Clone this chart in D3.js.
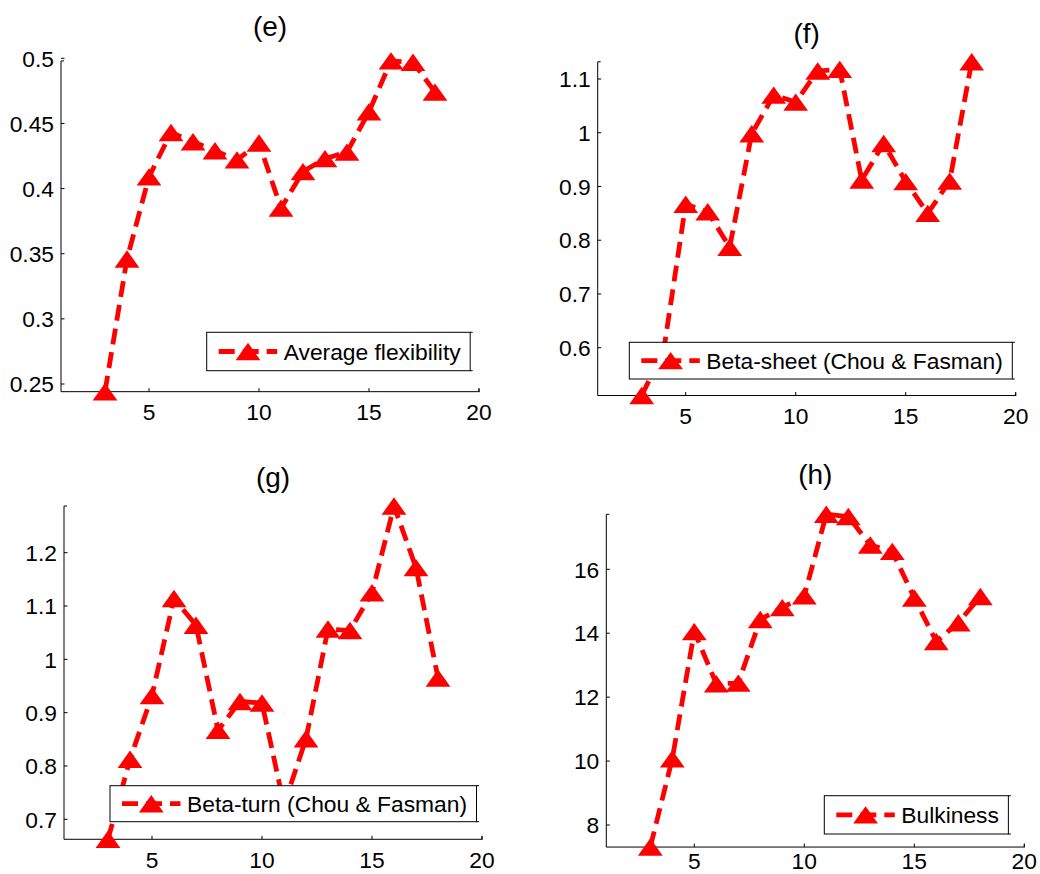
<!DOCTYPE html>
<html><head><meta charset="utf-8">
<script src="https://cdn.jsdelivr.net/npm/d3@7"></script>
<style>body{margin:0;background:#fff} svg{display:block}</style>
</head><body>
<svg id="chart" width="1040" height="874"></svg>
<script>
// ---- data ----
const xValues = [3,4,5,6,7,8,9,10,11,12,13,14,15,16,17,18];
const flexibility = [0.2441,0.346,0.409,0.443,0.436,0.429,0.422,0.435,0.385,0.413,0.423,0.428,0.459,0.498,0.497,0.474];
const betaSheet   = [0.511,0.595,0.867,0.853,0.787,0.998,1.07,1.057,1.115,1.118,0.912,0.980,0.909,0.850,0.910,1.132];
const betaTurn    = [0.6625,0.8125,0.932,1.114,1.064,0.867,0.921,0.918,0.727,0.851,1.057,1.054,1.125,1.2875,1.172,0.965];
const bulkiness   = [7.31,10.07,14.05,12.42,12.44,14.43,14.8,15.17,17.72,17.65,16.76,16.56,15.1,13.74,14.33,15.15];

const titles = ["(e)","(f)","(g)","(h)"];
const legendLabels = ["Average flexibility","Beta-sheet (Chou & Fasman)","Beta-turn (Chou & Fasman)","Bulkiness"];

const xLimits = [1,20];
const xTicks = [5,10,15,20];
const xTickLabels = ["5","10","15","20"];

const flexTicks = [0.25,0.3,0.35,0.4,0.45,0.5];
const flexTickLabels = ["0.25","0.3","0.35","0.4","0.45","0.5"];
const sheetTicks = [0.6,0.7,0.8,0.9,1,1.1];
const sheetTickLabels = ["0.6","0.7","0.8","0.9","1","1.1"];
const turnTicks = [0.7,0.8,0.9,1,1.1,1.2];
const turnTickLabels = ["0.7","0.8","0.9","1","1.1","1.2"];
const bulkTicks = [8,10,12,14,16];
const bulkTickLabels = ["8","10","12","14","16"];

// ---- layout ----
const panels = [
  {title:titles[0], values:flexibility, label:legendLabels[0], yTicks:flexTicks, yTickLabels:flexTickLabels,
   xr:[149,479], yd:[0.25,0.5], yr:[384,58.3], titleY:35.8, legend:{x:206.7,y:332.3,h:38.4}},
  {title:titles[1], values:betaSheet, label:legendLabels[1], yTicks:sheetTicks, yTickLabels:sheetTickLabels,
   xr:[685.7,1015.7], yd:[0.6,1.1], yr:[347.7,79], titleY:43.4, legend:{x:629.3,y:342.3,h:36.7}},
  {title:titles[2], values:betaTurn, label:legendLabels[2], yTicks:turnTicks, yTickLabels:turnTickLabels,
   xr:[152,482], yd:[0.7,1.2], yr:[819.3,552.7], titleY:487.4, legend:{x:110,y:785.7,h:36}},
  {title:titles[3], values:bulkiness, label:legendLabels[3], yTicks:bulkTicks, yTickLabels:bulkTickLabels,
   xr:[694.3,1024.3], yd:[8,16], yr:[825,569.3], titleY:484.1, legend:{x:824.3,y:795.7,h:38.3}}
];

const FONT = "'Liberation Sans', Arial, sans-serif";
const RED = "#ff0000";
const svg = d3.select("#chart");
const tri = "M0,-8.7L12.4,8.7L-12.4,8.7Z";

panels.forEach(p => {
  const x = d3.scaleLinear().domain([5,20]).range(p.xr);
  const y = d3.scaleLinear().domain(p.yd).range(p.yr);
  const yMin = d3.min(p.values), yMax = d3.max(p.values);
  const g = svg.append("g");
  const x0 = x(xLimits[0]), x1 = x(xLimits[1]), yb = y(yMin), yt = y(yMax);

  // axis lines
  g.append("line").attr("x1",x0).attr("x2",x1+0.5).attr("y1",yb).attr("y2",yb)
    .attr("stroke","#000").attr("stroke-width",1);
  g.append("line").attr("x1",x0).attr("x2",x0).attr("y1",yb).attr("y2",yt)
    .attr("stroke","#000").attr("stroke-width",1);
  // end marks
  g.append("line").attr("x1",x0).attr("x2",x0+3).attr("y1",yt).attr("y2",yt).attr("stroke","#000");
  g.append("line").attr("x1",x1).attr("x2",x1).attr("y1",yb).attr("y2",yb-3).attr("stroke","#000");

  // x ticks
  const xLabelY = Math.min(yb + 28.3, 868.5);
  xTicks.forEach((t,i) => {
    g.append("line").attr("x1",x(t)).attr("x2",x(t)).attr("y1",yb).attr("y2",yb-3.5).attr("stroke","#000");
    g.append("text").attr("x",x(t)).attr("y",xLabelY).attr("text-anchor","middle")
      .attr("font-family",FONT).attr("font-size",22.8).attr("fill","#000").text(xTickLabels[i]);
  });
  // y ticks
  p.yTicks.forEach((t,i) => {
    g.append("line").attr("x1",x0).attr("x2",x0+3.5).attr("y1",y(t)).attr("y2",y(t)).attr("stroke","#000");
    g.append("text").attr("x",x0-7).attr("y",y(t)+8.2).attr("text-anchor","end")
      .attr("font-family",FONT).attr("font-size",22.8).attr("fill","#000").text(p.yTickLabels[i]);
  });

  // title
  g.append("text").attr("x",(x0+x1)/2).attr("y",p.titleY).attr("text-anchor","middle")
    .attr("font-family",FONT).attr("font-size",28).attr("fill","#000").text(p.title);

  // series
  const pts = xValues.map((v,i) => [v, p.values[i]]);
  const line = d3.line().x(d => x(d[0])).y(d => y(d[1]));
  g.append("path").attr("d",line(pts)).attr("fill","none").attr("stroke",RED)
    .attr("stroke-width",4.8).attr("stroke-dasharray","16,8");
  g.selectAll(null).data(pts).enter().append("path")
    .attr("d",tri).attr("transform",d => `translate(${x(d[0])},${y(d[1])})`).attr("fill",RED);

  // legend
  const L = p.legend, cy = L.y + L.h/2;
  const lg = g.append("g");
  const box = lg.append("rect").attr("x",L.x).attr("y",L.y).attr("height",L.h)
    .attr("fill","#fff").attr("stroke","#000").attr("stroke-width",1);
  lg.append("line").attr("x1",L.x+12).attr("x2",L.x+70.5).attr("y1",cy).attr("y2",cy)
    .attr("stroke",RED).attr("stroke-width",4.8).attr("stroke-dasharray","16,8");
  lg.append("path").attr("d",tri).attr("transform",`translate(${L.x+41.3},${cy})`).attr("fill",RED);
  const txt = lg.append("text").attr("x",L.x+77).attr("y",cy+8.2)
    .attr("font-family",FONT).attr("font-size",22.8).attr("fill","#000").text(p.label);
  const w = txt.node().getComputedTextLength();
  const right = L.x + 77 + w + 9.5;
  box.attr("width", right - L.x);
  lg.append("line").attr("x1",right).attr("x2",right+2.5).attr("y1",L.y).attr("y2",L.y).attr("stroke","#000");
  lg.append("line").attr("x1",right).attr("x2",right+2.5).attr("y1",L.y+L.h).attr("y2",L.y+L.h).attr("stroke","#000");
});
</script>
</body></html>
